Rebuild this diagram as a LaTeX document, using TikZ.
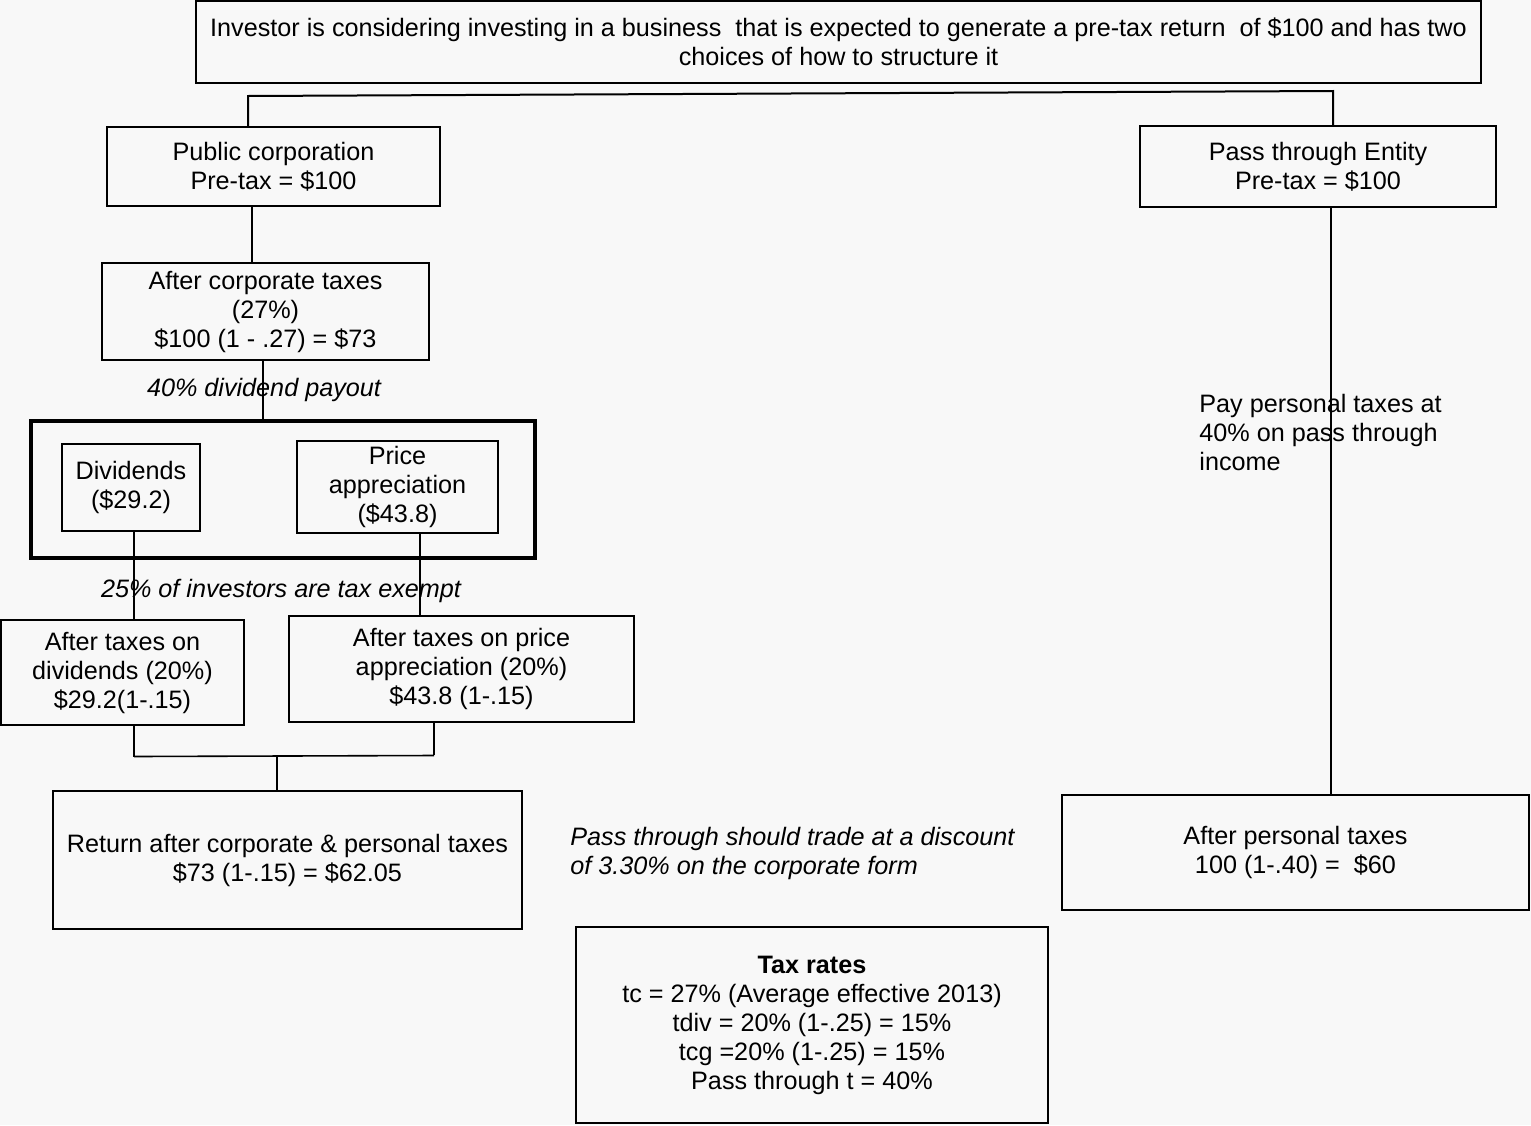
\documentclass[tikz,border=0pt]{standalone}
\usepackage{fontspec}
\setmainfont{Liberation Sans}
\definecolor{bgc}{RGB}{248,248,248}
\begin{document}
\begin{tikzpicture}[x=0.5pt,y=-0.5pt,
  every node/.style={font=\fontsize{12.6}{14.5}\selectfont},
  box/.style={draw, line width=1pt, align=center, inner sep=0pt, outer sep=0pt,
    execute at begin node={\rule{0pt}{11.8pt}}},
  lbl/.style={inner sep=0pt, font=\fontsize{12.6}{14.5}\selectfont\itshape},
  conn/.style={line width=0.8pt}]
\fill[bgc] (0,0) rectangle (1531,1125);
\useasboundingbox (0,0) rectangle (1531,1125);
% boxes
\node[box, minimum width=642.5pt, minimum height=41pt] (top) at (838.5,42)
  {Investor is considering investing in a business\ \ that is expected to generate a pre-tax return\ \ of \$100 and has two\\choices of how to structure it};
\node[box, minimum width=166.5pt, minimum height=39.5pt] (pub) at (273.5,166.5) {Public corporation\\Pre-tax = \$100};
\node[box, minimum width=163.5pt, minimum height=48.5pt] (act) at (265.5,311.5) {After corporate taxes\\(27\%)\\\$100 (1 - .27) = \$73};
\node[draw, line width=2pt, minimum width=252pt, minimum height=68.5pt, inner sep=0pt] (big) at (283,489.5) {};
\node[box, minimum width=69pt, minimum height=43.5pt] (div) at (131,487.5) {Dividends\\(\$29.2)};
\node[box, minimum width=100.5pt, minimum height=46pt] (price) at (397.5,487) {Price\\appreciation\\(\$43.8)};
\node[box, minimum width=121.5pt, minimum height=52.5pt] (atd) at (122.5,672.5) {After taxes on\\dividends (20\%)\\\$29.2(1-.15)};
\node[box, minimum width=172.5pt, minimum height=53pt] (atp) at (461.5,669) {After taxes on price\\appreciation (20\%)\\\$43.8 (1-.15)};
\node[box, minimum width=234.5pt, minimum height=69pt] (ret) at (287.5,860) {Return after corporate \& personal taxes\\\$73 (1-.15) = \$62.05};
\node[box, minimum width=236pt, minimum height=98pt] (tax) at (812,1025) {\textbf{Tax rates}\\tc = 27\% (Average effective 2013)\\tdiv = 20\% (1-.25) = 15\%\\tcg =20\% (1-.25) = 15\%\\Pass through t = 40\%};
\node[box, minimum width=178pt, minimum height=40.5pt] (pte) at (1318,166.5) {Pass through Entity\\Pre-tax = \$100};
\node[box, minimum width=233.5pt, minimum height=57.5pt] (apt) at (1295.5,852.5) {After personal taxes\\100 (1-.40) =\ \ \$60};
% connectors
\draw[line width=1pt] (pub.north -| 248,0) -- (248,96) -- (1333,91) -- (pte.north -| 1333,0);
\draw[conn] (pub.south -| 252,0) -- (act.north -| 252,0);
\draw[conn] (act.south -| 263,0) -- (big.north -| 263,0);
\draw[conn] (div.south -| 134,0) -- (atd.north -| 134,0);
\draw[conn] (price.south -| 420,0) -- (atp.north -| 420,0);
\draw[conn] (atd.south -| 134,0) -- (134,757);
\draw[conn] (atp.south -| 434,0) -- (434,755);
\draw[conn] (134,756.5) -- (434,755.5);
\draw[conn] (277,756) -- (ret.north -| 277,0);
\draw[conn] (pte.south -| 1331,0) -- (apt.north -| 1331,0);
% labels
\node[lbl] (l1) at (264,390) {40\% dividend payout};
\node[lbl] (l2) at (281,591) {25\% of investors are tax exempt};
\node[lbl, anchor=west, align=left] (l3) at (570,853) {Pass through should trade at a discount\\of 3.30\% on the corporate form};
\node[inner sep=0pt, anchor=west, align=left] (l4) at (1199,432) {Pay personal taxes at\\40\% on pass through\\income};
\end{tikzpicture}
\end{document}
